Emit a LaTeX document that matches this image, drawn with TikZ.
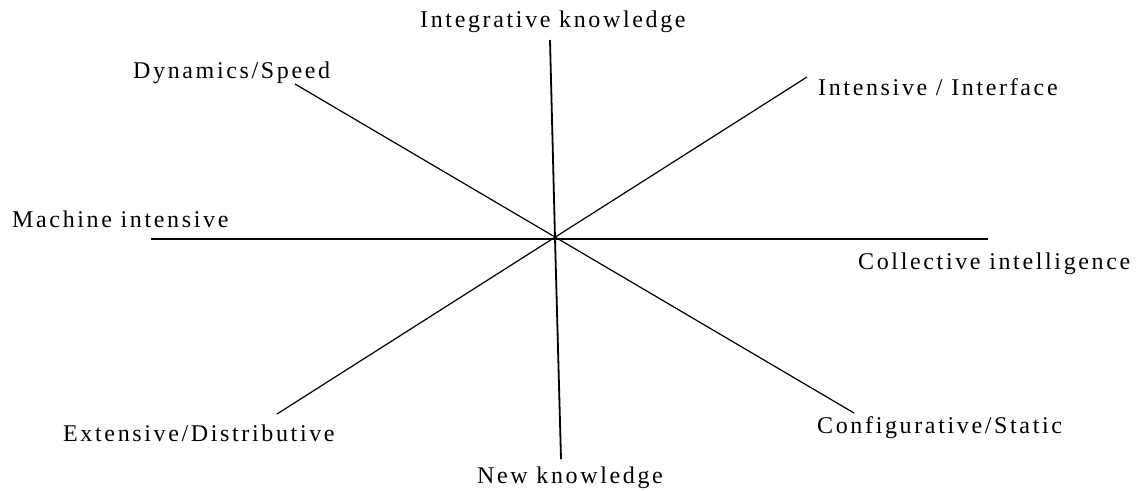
\documentclass[tikz,border=0pt]{standalone}
\usepackage{fontspec}
\setmainfont{Liberation Serif}[LetterSpace=11]
\begin{document}
\begin{tikzpicture}[x=1pt,y=-1pt,
  lbl/.style={inner sep=0pt, anchor=base west, font=\fontsize{24}{28}\selectfont},
  axis/.style={line width=1.8pt, black},
  diag/.style={line width=1.2pt, black}]
\useasboundingbox (0,0) rectangle (1140,490);
% center and line ends
\coordinate (c) at (555,238);
\coordinate (vt) at (550,40);
\coordinate (vb) at (561,459);
\coordinate (hl) at (151,239);
\coordinate (hr) at (988,239);
\coordinate (dtl) at (295,84);
\coordinate (dbr) at (854,413);
\coordinate (dtr) at (807,77);
\coordinate (dbl) at (277,414);
% labels
\node[lbl] (integ) at (420,27) {Integrative knowledge};
\node[lbl] (dyn) at (133,78) {Dynamics/Speed};
\node[lbl] (intens) at (818,95) {Intensive / Interface};
\node[lbl] (mach) at (12,227) {Machine intensive};
\node[lbl] (coll) at (858,269) {Collective intelligence};
\node[lbl] (ext) at (63,441) {Extensive/Distributive};
\node[lbl] (conf) at (817,433) {Configurative/Static};
\node[lbl] (new) at (477,483) {New knowledge};
% lines
\draw[axis] (vt) -- (c) -- (vb);
\draw[axis] (hl) -- (hr);
\draw[diag] (dtl) -- (dbr);
\draw[diag] (dbl) -- (dtr);
\end{tikzpicture}
\end{document}
